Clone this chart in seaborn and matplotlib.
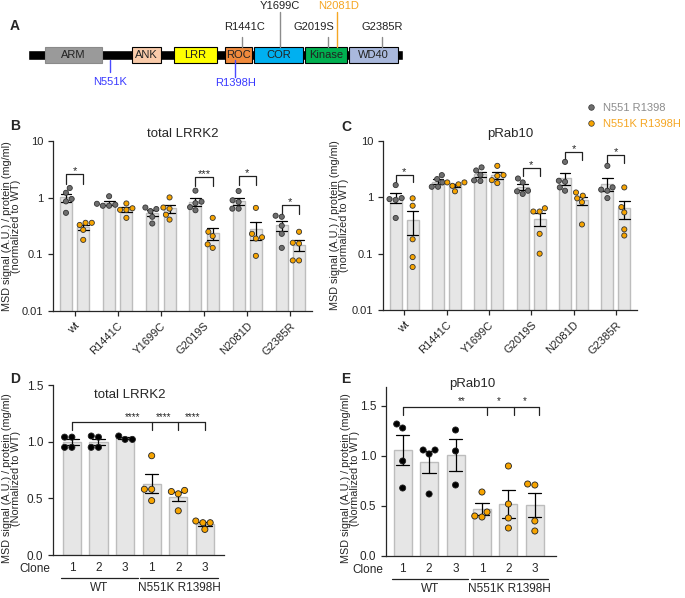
import numpy as np
import pandas as pd
import seaborn as sns
import matplotlib.pyplot as plt
from matplotlib.lines import Line2D
from matplotlib.ticker import NullLocator
import matplotlib.transforms as mtransforms

# ---- panel A: LRRK2 domain map (amino-acid positions) ----
protein_length = 2527
domains = ["ARM", "ANK", "LRR", "ROC", "COR", "Kinase", "WD40"]
domain_start = [115, 700, 984, 1327, 1523, 1866, 2163]
domain_end = [499, 896, 1273, 1510, 1853, 2150, 2493]
domain_colors = ["#9a9a9a", "#f9cbaa", "#ffff00", "#f08a3c", "#00b0f0", "#00b050", "#a9b8dc"]
mutations = ["N551K", "R1398H", "R1441C", "Y1699C", "G2019S", "N2081D", "G2385R"]
mutation_pos = [551, 1398, 1441, 1699, 2019, 2081, 2385]

# ---- panels B / C ----
variants = ["wt", "R1441C", "Y1699C", "G2019S", "N2081D", "G2385R"]
backgrounds = ["N551 R1398", "N551K R1398H"]
total_lrrk2_ctrl = [
    [1.48, 1.22, 0.95, 0.86, 0.54],
    [1.06, 0.78, 0.72, 0.72, 0.75],
    [0.63, 0.67, 0.58, 0.46, 0.35],
    [1.33, 0.85, 0.80, 0.68, 0.60],
    [1.31, 0.84, 0.90, 0.64, 0.64],
    [0.48, 0.46, 0.32, 0.23, 0.13],
]
total_lrrk2_mut = [
    [0.36, 0.36, 0.33, 0.27, 0.18],
    [0.61, 0.79, 0.65, 0.61, 0.44],
    [1.01, 0.64, 0.67, 0.50, 0.41],
    [0.44, 0.25, 0.21, 0.15, 0.13],
    [0.66, 0.23, 0.20, 0.19, 0.094],
    [0.25, 0.155, 0.16, 0.078, 0.078],
]
prab10_ctrl = [
    [1.65, 0.90, 0.97, 0.93, 0.43],
    [2.48, 2.11, 1.84, 1.54, 1.54],
    [3.40, 3.00, 2.50, 2.00, 1.95],
    [2.16, 1.84, 1.31, 1.15, 1.28],
    [4.26, 1.97, 1.89, 1.31, 1.50],
    [3.62, 1.50, 1.31, 1.37, 0.97],
]
prab10_mut = [
    [0.96, 0.71, 0.18, 0.087, 0.058],
    [1.84, 1.84, 1.60, 1.28, 1.70],
    [3.62, 2.48, 2.41, 2.02, 1.79],
    [0.64, 0.56, 0.56, 0.225, 0.10],
    [1.22, 1.07, 0.96, 0.82, 0.33],
    [1.50, 0.54, 0.67, 0.27, 0.21],
]
# significance: variant index, bracket top, leg bottom, label
lrrk2_sig = [(0, 2.58, 1.72, "*"), (3, 2.32, 1.58, "***"), (4, 2.45, 1.65, "*"), (5, 0.75, 0.52, "*")]
prab10_sig = [(0, 2.51, 1.84, "*"), (3, 3.38, 2.35, "*"), (4, 6.5, 4.56, "*"), (5, 5.58, 4.03, "*")]

# ---- panels D / E ----
clones = ["WT 1", "WT 2", "WT 3", "KH 1", "KH 2", "KH 3"]
clone_ticklabels = ["1", "2", "3", "1", "2", "3"]
clone_genotype = ["WT", "WT", "WT", "N551K R1398H", "N551K R1398H", "N551K R1398H"]
lrrk2_clone = [
    [1.04, 1.04, 0.95, 0.95],
    [1.04, 1.05, 0.95, 0.95],
    [1.02, 1.05, 1.02],
    [0.876, 0.58, 0.58, 0.48],
    [0.57, 0.54, 0.56, 0.39],
    [0.30, 0.285, 0.285, 0.226],
]
prab10_clone = [
    [1.32, 1.28, 0.95, 0.68],
    [1.06, 1.06, 1.02, 0.62],
    [1.26, 1.05, 0.71],
    [0.64, 0.39, 0.44, 0.40],
    [0.90, 0.52, 0.38, 0.28],
    [0.71, 0.72, 0.35, 0.25],
]
lrrk2_clone_sig = dict(top=1.17, leg=1.10, drops=[0, 3, 4, 5], star_x=[2.3, 3.46, 4.54], star_y=1.22,
                       stars=["****", "****", "****"])
prab10_clone_sig = dict(top=1.49, leg=1.41, drops=[0, 3.2, 4.2, 5.15], star_x=[2.22, 3.62, 4.63], star_y=1.55,
                        stars=["**", "*", "*"])

bar_fill = "#e6e6e6"
bar_edge = "#bdbdbd"
grey_pt = "#6e6e6e"
orange_pt = "#f7a400"

sns.set_style("ticks")
plt.rcParams["font.family"] = ["Liberation Sans", "DejaVu Sans"]
plt.rcParams["font.size"] = 8
plt.rcParams["axes.linewidth"] = 0.9
plt.rcParams["xtick.major.width"] = 0.9
plt.rcParams["ytick.major.width"] = 0.9

W, H = 685, 598
fig = plt.figure(figsize=(W / 100, H / 100), dpi=100)


def px_axes(left, top, right, bottom):
    return fig.add_axes([left / W, 1 - bottom / H, (right - left) / W, (bottom - top) / H])


# ---------------- A ----------------
ax_a = px_axes(28, 0, 403, 100)
ax_a.set_xlim(0, protein_length)
ax_a.set_ylim(100, 0)
ax_a.axis("off")
ax_a.barh(55, protein_length, left=0, height=10, color="black")
for name, s, e, c in zip(domains, domain_start, domain_end, domain_colors):
    ec = "#8a8a8a" if name == "ARM" else "black"
    ax_a.barh(55, e - s, left=s, height=16, color=c, edgecolor=ec, linewidth=0.8)
    ax_a.text((s + e) / 2, 55.5, name, ha="center", va="center", fontsize=8, color="#222222")

mut_line_end = [72, 77, 37, 12, 37, 12, 37]
mut_text_y = [82, 83, 27, 6, 27, 6, 27]
mut_text_dx = [0, 0, 15, 0, -95, 12, 0]
for m, p, le, ty, dx in zip(mutations, mutation_pos, mut_line_end, mut_text_y, mut_text_dx):
    if m in ("N551K", "R1398H"):
        lc, tc, y0 = "#4a4aff", "#3a3aff", 60
    elif m == "N2081D":
        lc, tc, y0 = "#f5a623", "#f5a623", 47
    else:
        lc, tc, y0 = "#8c8c8c", "#222222", 47
    ax_a.plot([p, p], [y0, le], color=lc, lw=1)
    ax_a.text(p + dx, ty, m, ha="center", va="center", fontsize=8, color=tc)

fig.text(15 / W, 1 - 26 / H, "A", fontsize=10, fontweight="bold", ha="center", va="center")
fig.text(15 / W, 1 - 126 / H, "B", fontsize=10, fontweight="bold", ha="center", va="center")
fig.text(346 / W, 1 - 127 / H, "C", fontsize=10, fontweight="bold", ha="center", va="center")
fig.text(15 / W, 1 - 379 / H, "D", fontsize=10, fontweight="bold", ha="center", va="center")
fig.text(346 / W, 1 - 379 / H, "E", fontsize=10, fontweight="bold", ha="center", va="center")


def long_df(ctrl, mut):
    rows = []
    for v, a, b in zip(variants, ctrl, mut):
        rows += [(v, backgrounds[0], x) for x in a]
        rows += [(v, backgrounds[1], x) for x in b]
    return pd.DataFrame(rows, columns=["variant", "background", "value"])


def log_panel(ax, df, title, sig, label_x):
    sns.barplot(data=df, x="variant", y="value", hue="background", order=variants,
                hue_order=backgrounds, palette={b: bar_fill for b in backgrounds},
                edgecolor=bar_edge, linewidth=1, gap=0.3, errorbar="se", capsize=0.5,
                err_kws={"color": "black", "linewidth": 0.9}, legend=False, ax=ax)
    ax.set_yscale("log")
    ax.set_ylim(0.01, 10)
    sns.swarmplot(data=df, x="variant", y="value", hue="background", order=variants,
                  hue_order=backgrounds, palette=[grey_pt, orange_pt], dodge=True, size=3.7,
                  edgecolor="#333333", linewidth=0.6, legend=False, warn_thresh=1, ax=ax)
    ax.set_xlim(-0.5, 5.5)
    ax.set_yticks([0.01, 0.1, 1, 10], labels=["0.01", "0.1", "1", "10"])
    ax.yaxis.set_minor_locator(NullLocator())
    ax.tick_params(axis="both", direction="out", length=3.5, labelsize=8)
    ax.set_xticks(range(len(variants)))
    ax.set_xticklabels(variants, rotation=45, ha="right", rotation_mode="anchor")
    ax.set_xlabel("")
    ax.set_ylabel("MSD signal (A.U.) / protein (mg/ml)\n(normalized to WT)", fontsize=7.8, linespacing=0.85)
    ax.yaxis.set_label_coords(label_x, 0.5)
    ax.set_title(title, fontsize=9.5, pad=3)
    for i, hi, lo, txt in sig:
        x0, x1 = i - 0.2, i + 0.2
        ax.plot([x0, x0, x1, x1], [lo, hi, hi, lo], color="#222222", lw=0.9)
        ax.text(i, hi * 1.12, txt, ha="center", va="center", fontsize=8)
    sns.despine(ax=ax)


ax_b = px_axes(53, 141, 312, 311)
log_panel(ax_b, long_df(total_lrrk2_ctrl, total_lrrk2_mut), "total LRRK2", lrrk2_sig, -0.124)

ax_c = px_axes(383, 141, 637, 310)
log_panel(ax_c, long_df(prab10_ctrl, prab10_mut), "pRab10", prab10_sig, -0.134)

handles = [Line2D([], [], marker="o", ls="", markersize=4, markerfacecolor=c, markeredgecolor="#333333",
                  markeredgewidth=0.5) for c in (grey_pt, orange_pt)]
leg = fig.legend(handles, backgrounds, loc="upper left", bbox_to_anchor=(585 / W, 1 - 103 / H),
                 frameon=False, fontsize=8, handlelength=1.0, handletextpad=0.6, labelspacing=0.55,
                 borderaxespad=0, borderpad=0)
for t, c in zip(leg.get_texts(), ("#8c8c8c", "#f5a623")):
    t.set_color(c)


def clone_df(values):
    rows = []
    for c, g, vals in zip(clones, clone_genotype, values):
        rows += [(c, g, x) for x in vals]
    return pd.DataFrame(rows, columns=["clone", "genotype", "value"])


def clone_panel(ax, values, title, title_xy, ymax, sig, label_xy, first_center):
    df = clone_df(values)
    sns.barplot(data=df, x="clone", y="value", order=clones, color=bar_fill, edgecolor=bar_edge,
                linewidth=1, width=0.68, errorbar="se", capsize=0.5,
                err_kws={"color": "black", "linewidth": 0.9}, ax=ax)
    sns.swarmplot(data=df, x="clone", y="value", hue="genotype", order=clones,
                  palette={"WT": "black", "N551K R1398H": orange_pt}, size=4.4,
                  edgecolor="#222222", linewidth=0.6, legend=False, warn_thresh=1, ax=ax)
    ax.set_xlim(-first_center, 6.43 - first_center)
    ax.set_ylim(0, ymax)
    ax.set_yticks([0, 0.5, 1.0, 1.5], labels=["0.0", "0.5", "1.0", "1.5"])
    ax.set_xticks(range(6), labels=clone_ticklabels)
    ax.tick_params(axis="y", direction="out", length=3.5, labelsize=8.5)
    ax.tick_params(axis="x", length=0, pad=5, labelsize=8.5)
    ax.set_xlabel("")
    ax.set_ylabel("MSD signal (A.U.) / protein (mg/ml)\n(Normalized to WT)", fontsize=7.8, linespacing=0.85)
    ax.yaxis.set_label_coords(*label_xy)
    ax.text(title_xy[0], title_xy[1], title, transform=ax.transAxes, ha="center", va="center", fontsize=9.5)
    d = sig["drops"]
    ax.plot([d[0], d[-1]], [sig["top"], sig["top"]], color="#222222", lw=0.9)
    for x in d:
        ax.plot([x, x], [sig["leg"], sig["top"]], color="#222222", lw=0.9)
    for x, s in zip(sig["star_x"], sig["stars"]):
        ax.text(x, sig["star_y"], s, ha="center", va="center", fontsize=7)
    trans = mtransforms.blended_transform_factory(ax.transData, ax.transAxes)
    ax.text(-0.015, -0.085, "Clone", transform=ax.transAxes, ha="right", va="center", fontsize=8.5)
    for x0, x1, lab in [(-0.42, 2.47, "WT"), (2.58, 5.48, "N551K R1398H")]:
        ax.plot([x0, x1], [-0.135, -0.135], color="#222222", lw=0.9, transform=trans, clip_on=False)
        ax.text((x0 + x1) / 2, -0.16, lab, transform=trans, ha="center", va="top", fontsize=8.5)
    sns.despine(ax=ax)


ax_d = px_axes(53, 385, 224, 555)
clone_panel(ax_d, lrrk2_clone, "total LRRK2", (0.45, 0.94), 1.5, lrrk2_clone_sig, (-0.187, 0.45), 0.71)

ax_e = px_axes(386, 387, 556, 556)
clone_panel(ax_e, prab10_clone, "pRab10", (0.506, 1.02), 1.69, prab10_clone_sig, (-0.153, 0.46), 0.63)

fig.savefig("out.png", dpi=100)
